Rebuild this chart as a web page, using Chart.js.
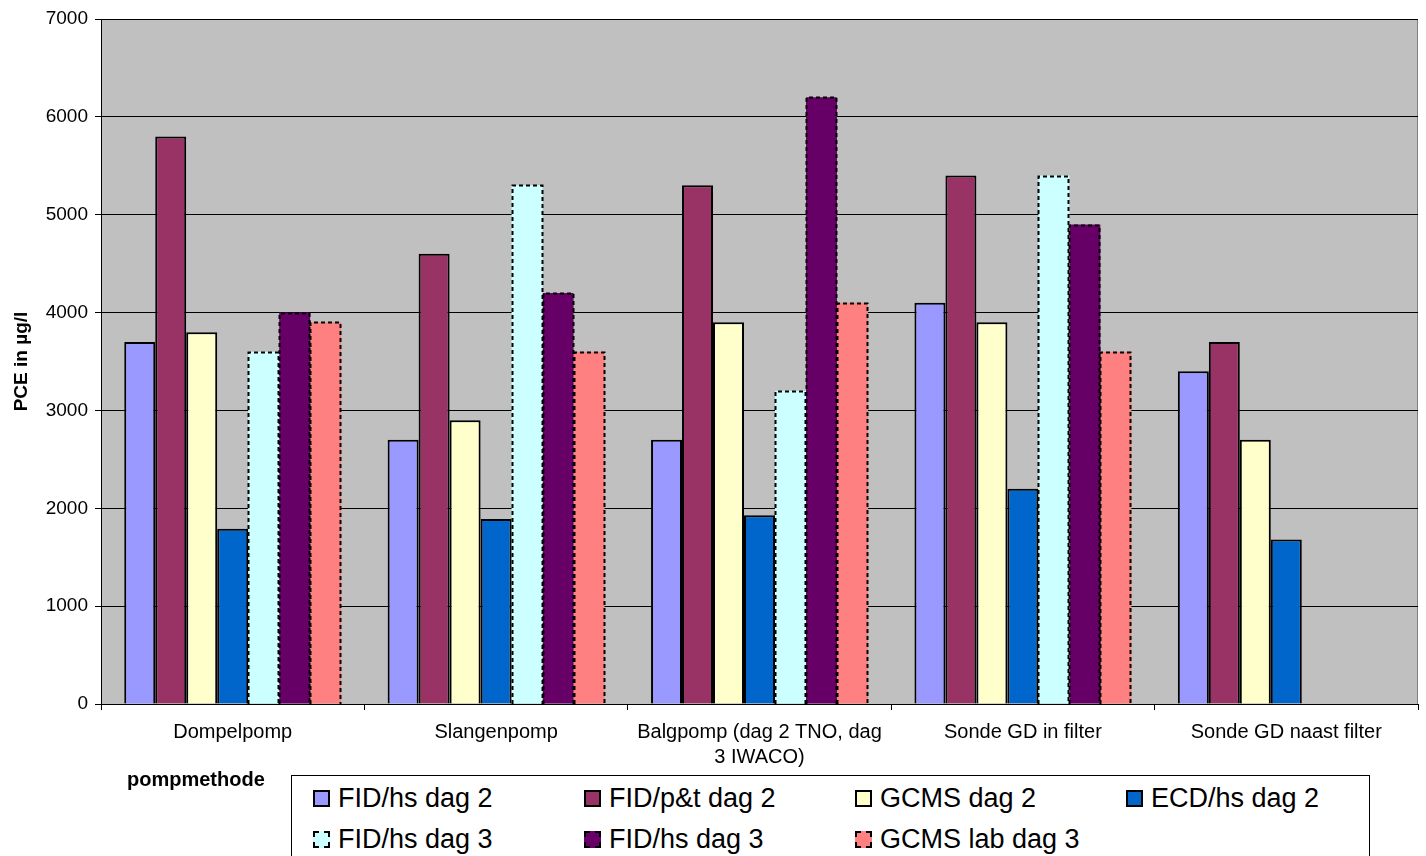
<!DOCTYPE html>
<html>
<head>
<meta charset="utf-8">
<script src="https://cdn.jsdelivr.net/npm/chart.js@4.4.1/dist/chart.umd.min.js"></script>
<style>
  html, body { margin: 0; padding: 0; background: #fff; }
  #wrap { position: relative; width: 1426px; height: 856px; overflow: hidden; font-family: "Liberation Sans", Arial, sans-serif; }
  #wrap canvas { position: absolute; left: 0; top: 0; }
  #xTitle { position: absolute; left: 127px; top: 767px; font-weight: bold; font-size: 20px; line-height: 24px; color: #000; }
  #legend { position: absolute; left: 291px; top: 775px; width: 1079px; height: 100px; border: 1px solid #000; box-sizing: border-box; background: #fff; }
  .item { position: absolute; height: 30px; display: flex; align-items: center; font-size: 27px; color: #000; white-space: nowrap; }
  .swatch { width: 17px; height: 17px; box-sizing: border-box; border: 2px solid #000; margin-right: 8px; flex: none; }
  .swatch.dashed { border: 2px dashed #000; }
</style>
</head>
<body>
<div id="wrap">
  <canvas id="chart" width="1426" height="856"></canvas>
  <div id="xTitle">pompmethode</div>
  <div id="legend"></div>
</div>
<script>
// Pump methods on the x axis
const categories = [
  'Dompelpomp',
  'Slangenpomp',
  ['Balgpomp (dag 2 TNO, dag', '3 IWACO)'],
  'Sonde GD in filter',
  'Sonde GD naast filter'
];

// PCE concentration (µg/l) per analysis method
const fidHsDag2   = [3700, 2700, 2700, 4100, 3400];
const fidPtDag2   = [5800, 4600, 5300, 5400, 3700];
const gcmsDag2    = [3800, 2900, 3900, 3900, 2700];
const ecdHsDag2   = [1790, 1890, 1930, 2200, 1680];
const fidHsDag3a  = [3600, 5300, 3200, 5400, null];
const fidHsDag3b  = [4000, 4200, 6200, 4900, null];
const gcmsLabDag3 = [3900, 3600, 4100, 3600, null];

const seriesNames = [
  'FID/hs dag 2', 'FID/p&t dag 2', 'GCMS dag 2', 'ECD/hs dag 2',
  'FID/hs dag 3', 'FID/hs dag 3', 'GCMS lab dag 3'
];
const seriesValues = [fidHsDag2, fidPtDag2, gcmsDag2, ecdHsDag2, fidHsDag3a, fidHsDag3b, gcmsLabDag3];

// Value axis ticks
const yTicks = [0, 1000, 2000, 3000, 4000, 5000, 6000, 7000];

// Styling
const seriesColors = ['#9999FF', '#993366', '#FFFFCC', '#0066CC', '#CCFFFF', '#660066', '#FF8080'];
const seriesDashed = [false, false, false, false, true, true, true];

const datasets = seriesValues.map((vals, i) => ({
  label: seriesNames[i],
  data: vals,
  backgroundColor: seriesColors[i],
  borderColor: '#000',
  borderWidth: seriesDashed[i] ? 0 : 2,
  borderSkipped: 'bottom',
  dashedOutline: seriesDashed[i],
  categoryPercentage: 7 / 8.5,
  barPercentage: 1.0
}));

// Grey plot area with thin frame
const plotBackground = {
  id: 'plotBackground',
  beforeDraw(chart) {
    const { ctx, chartArea: a } = chart;
    ctx.save();
    ctx.fillStyle = '#C0C0C0';
    ctx.fillRect(a.left, a.top, a.right - a.left, a.bottom - a.top);
    ctx.strokeStyle = '#808080';
    ctx.lineWidth = 1;
    ctx.strokeRect(a.left + 0.5, a.top + 0.5, a.right - a.left - 1, a.bottom - a.top);
    ctx.restore();
  }
};

// Dashed outlines for the day-3 series
const dashedBars = {
  id: 'dashedBars',
  afterDatasetsDraw(chart) {
    const { ctx } = chart;
    chart.data.datasets.forEach((ds, di) => {
      if (!ds.dashedOutline) return;
      const meta = chart.getDatasetMeta(di);
      if (meta.hidden) return;
      meta.data.forEach((el, idx) => {
        if (ds.data[idx] == null) return;
        const { x, y, base, width } = el.getProps(['x', 'y', 'base', 'width'], true);
        const l = Math.round(x - width / 2) + 0.5;
        const r = Math.round(x + width / 2) - 0.5;
        const t = Math.round(y) + 0.5;
        const b = Math.round(base);
        ctx.save();
        ctx.strokeStyle = '#000';
        ctx.lineWidth = 2;
        ctx.setLineDash([4, 3]);
        ctx.beginPath();
        ctx.moveTo(l, b);
        ctx.lineTo(l, t);
        ctx.lineTo(r, t);
        ctx.lineTo(r, b);
        ctx.stroke();
        ctx.restore();
      });
    });
  }
};

const fontFamily = '"Liberation Sans", Arial, sans-serif';

new Chart(document.getElementById('chart'), {
  type: 'bar',
  data: { labels: categories, datasets },
  options: {
    responsive: false,
    animation: false,
    devicePixelRatio: 1,
    layout: { padding: { left: 0, top: 19, right: 8, bottom: 0 } },
    plugins: {
      legend: { display: false },
      tooltip: { enabled: false }
    },
    scales: {
      x: {
        offset: true,
        grid: { offset: true, drawOnChartArea: false, drawTicks: true, tickLength: 6, color: '#000' },
        border: { display: true, color: '#000', width: 1 },
        ticks: {
          autoSkip: false, maxRotation: 0, minRotation: 0, padding: 10,
          color: '#000', font: { family: fontFamily, size: 20, lineHeight: 1.25 }
        },
        afterFit(scale) { scale.height = 152; }
      },
      y: {
        min: yTicks[0],
        max: yTicks[yTicks.length - 1],
        afterBuildTicks(scale) { scale.ticks = yTicks.map(v => ({ value: v })); },
        grid: { color: '#000', lineWidth: 1, tickLength: 6, drawTicks: true },
        border: { display: true, color: '#000', width: 1 },
        ticks: {
          padding: 7, color: '#000', font: { family: fontFamily, size: 19 },
          callback: (v) => String(v)
        },
        title: {
          display: true, text: 'PCE in µg/l', color: '#000',
          font: { family: fontFamily, size: 19, weight: 'bold' },
          padding: { top: 10, bottom: 0 }
        },
        afterFit(scale) { scale.width = 101; }
      }
    }
  },
  plugins: [plotBackground, dashedBars]
});

// Legend: four columns, two rows
const legend = document.getElementById('legend');
seriesNames.forEach((name, i) => {
  const col = i % 4, row = Math.floor(i / 4);
  const item = document.createElement('div');
  item.className = 'item';
  item.style.left = (313 - 292 + col * 271) + 'px';
  item.style.top = (798 - 776 - 15 + row * 41) + 'px';
  const sw = document.createElement('span');
  sw.className = 'swatch' + (seriesDashed[i] ? ' dashed' : '');
  sw.style.background = seriesColors[i];
  const tx = document.createElement('span');
  tx.textContent = name;
  item.appendChild(sw);
  item.appendChild(tx);
  legend.appendChild(item);
});
</script>
</body>
</html>
